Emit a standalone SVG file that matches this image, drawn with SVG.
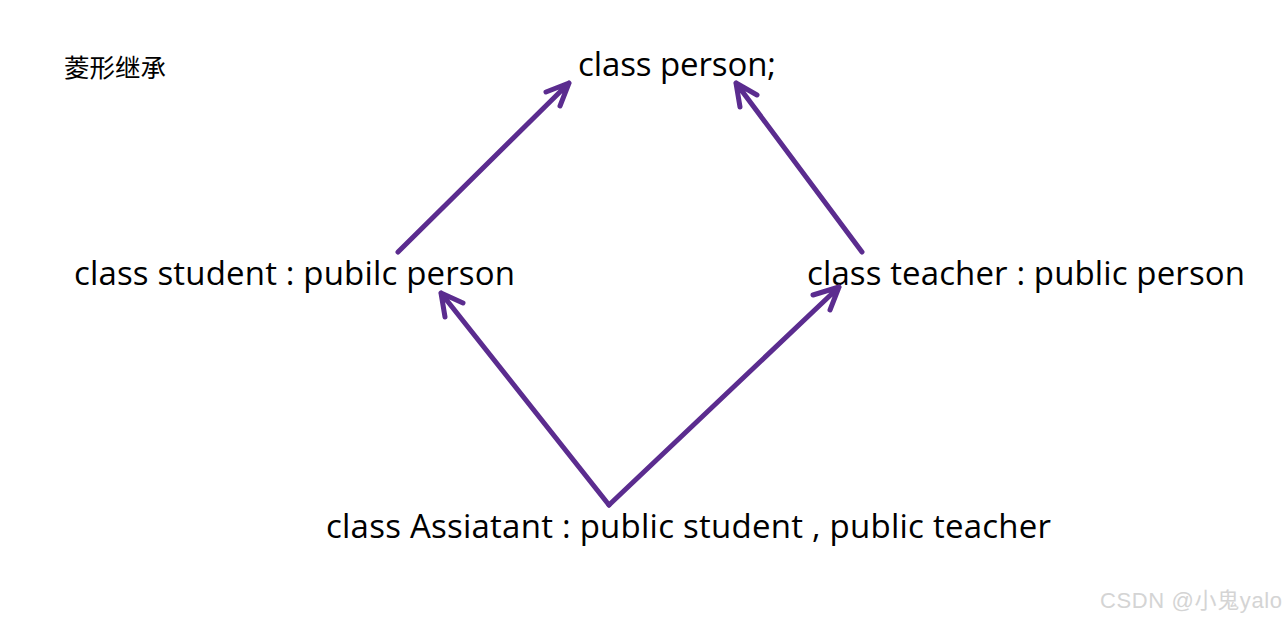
<svg xmlns="http://www.w3.org/2000/svg" width="1286" height="621" viewBox="0 0 1286 621">
<style>
.t{font-family:"Open Sans","Noto Sans","Liberation Sans",sans-serif;font-size:33px;fill:#000}
.cjk{font-family:"Noto Sans CJK SC",sans-serif;font-size:25.5px;fill:#000}
.wm{font-family:"Liberation Sans","Noto Sans CJK SC",sans-serif;font-size:22px;fill:#d4d4d4}
.c{fill:none;stroke:#5b2c8f;stroke-width:5;stroke-linecap:round;stroke-linejoin:round}
</style>
<rect width="1286" height="621" fill="#fff"/>
<g id="title"><text class="cjk" x="64" y="77">菱形继承</text></g>
<g id="person"><text class="t" x="578" y="76" textLength="198" lengthAdjust="spacing">class person;</text></g>
<g id="student"><text class="t" x="74" y="285" textLength="441" lengthAdjust="spacing">class student : pubilc person</text></g>
<g id="teacher"><text class="t" x="807" y="285" textLength="438" lengthAdjust="spacing">class teacher : public person</text></g>
<g id="assistant"><text class="t" x="326" y="538" textLength="725" lengthAdjust="spacing">class Assiatant : public student , public teacher</text></g>
<g id="connectors">
<path class="c" d="M398 252 L569 83 M546 92 L569 83 L560 106"/>
<path class="c" d="M862 252 L736 83 M757 95 L736 83 L740 107"/>
<path class="c" d="M609 505 L441 293 M463 303 L441 293 L445 317"/>
<path class="c" d="M609 505 L839 287 M813 295 L839 287 L830 310"/>
</g>
<g id="watermark"><text class="wm" x="1100" y="608" textLength="182" lengthAdjust="spacing">CSDN @小鬼yalo</text></g>
</svg>
